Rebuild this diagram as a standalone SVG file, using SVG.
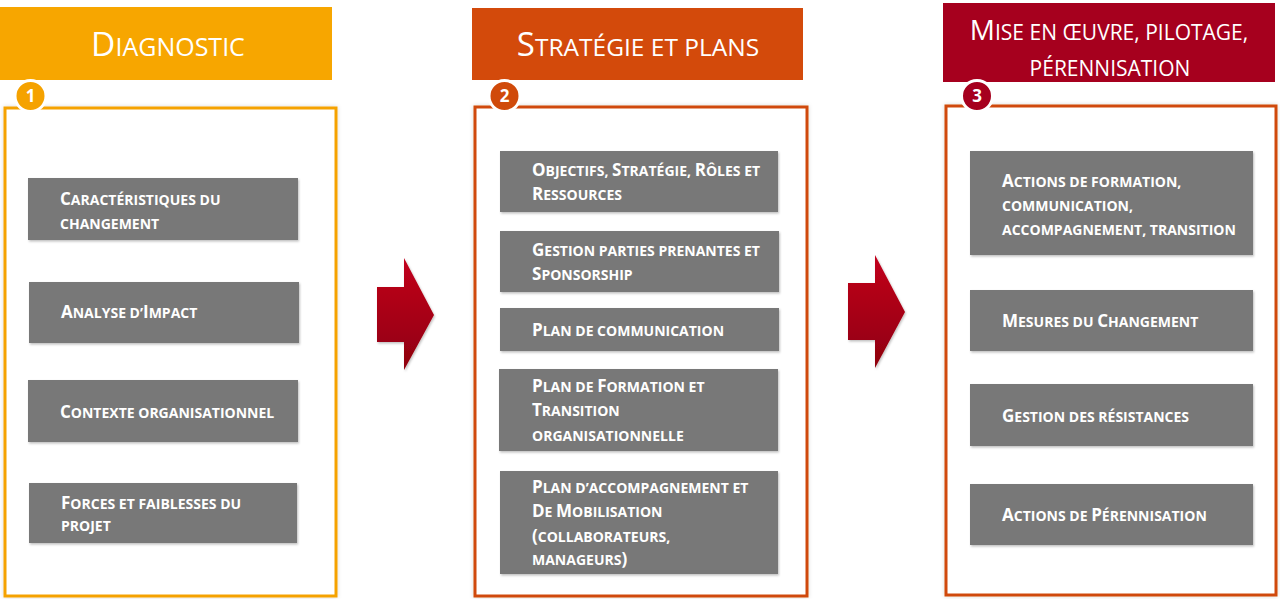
<svg xmlns="http://www.w3.org/2000/svg" width="1280" height="599" viewBox="0 0 1280 599">
<defs>
<style>
.hd{font-family:"Open Sans","Liberation Sans",sans-serif;fill:#fff;font-size:25px;text-anchor:middle}
.hd .B{font-size:33.5px}
.hd3{font-size:21px}
.hd3 .B{font-size:28px}
.bx{fill:#787878}
.t{font-family:"Open Sans","Liberation Sans",sans-serif;font-weight:bold;fill:#fff;font-size:14px}
.t .B{font-size:17px}
.num{font-family:"Open Sans","Liberation Sans",sans-serif;font-weight:bold;fill:#fff;font-size:17px;text-anchor:middle}
.fr{fill:#fff;stroke-width:3}
</style>
<linearGradient id="ag" x1="0" y1="0" x2="0" y2="1">
<stop offset="0" stop-color="#C2001C"/>
<stop offset="1" stop-color="#8E000F"/>
</linearGradient>
<filter id="sh" x="-5%" y="-10%" width="110%" height="130%">
<feDropShadow dx="1" dy="1.5" stdDeviation="1" flood-color="#000" flood-opacity="0.25"/>
</filter>
<filter id="gl" x="-5%" y="-5%" width="110%" height="110%">
<feDropShadow dx="0" dy="0" stdDeviation="2" flood-color="#000" flood-opacity="0.15"/>
</filter>
</defs>
<rect width="1280" height="599" fill="#fff"/>

<!-- Panel 1 -->
<g id="phase1">
<rect x="0" y="7" width="332" height="73" fill="#F7A600"/>
<text class="hd" x="168" y="56"><tspan class="B">D</tspan>IAGNOSTIC</text>
<rect class="fr" x="5" y="108" width="331" height="488" stroke="#F5A200" filter="url(#gl)"/>
<circle cx="30.5" cy="96" r="15.5" fill="#F5A200" stroke="#fff" stroke-width="3"/>
<text class="num" x="30.5" y="102">1</text>
</g>
<g id="p1-caracteristiques">
<rect class="bx" x="28" y="178" width="270" height="62" filter="url(#sh)"/>
<text class="t" x="60" y="205"><tspan class="B">C</tspan>ARACTÉRISTIQUES DU</text>
<text class="t" x="60" y="229">CHANGEMENT</text>
</g>
<g id="p1-analyse">
<rect class="bx" x="29" y="282" width="270" height="61" filter="url(#sh)"/>
<text class="t" x="61" y="318"><tspan class="B">A</tspan>NALYSE D’<tspan class="B">I</tspan>MPACT</text>
</g>
<g id="p1-contexte">
<rect class="bx" x="28" y="380" width="270" height="62" filter="url(#sh)"/>
<text class="t" x="60" y="418"><tspan class="B">C</tspan>ONTEXTE ORGANISATIONNEL</text>
</g>
<g id="p1-forces">
<rect class="bx" x="29" y="483" width="268" height="60" filter="url(#sh)"/>
<text class="t" x="61" y="509"><tspan class="B">F</tspan>ORCES ET FAIBLESSES DU</text>
<text class="t" x="61" y="531">PROJET</text>
</g>

<!-- Panel 2 -->
<g id="phase2">
<rect x="472" y="8" width="331" height="72" fill="#D34A0B"/>
<text class="hd" x="638" y="56" style="font-size:24.5px"><tspan class="B" style="font-size:33px">S</tspan>TRATÉGIE ET PLANS</text>
<rect class="fr" x="475" y="107" width="332" height="489" stroke="#D04A0A" filter="url(#gl)"/>
<circle cx="504.5" cy="96" r="15.5" fill="#D04A0A" stroke="#fff" stroke-width="3"/>
<text class="num" x="504.5" y="102">2</text>
</g>
<g id="p2-objectifs">
<rect class="bx" x="500" y="151" width="278" height="61" filter="url(#sh)"/>
<text class="t" x="532" y="176"><tspan class="B">O</tspan>BJECTIFS, <tspan class="B">S</tspan>TRATÉGIE, <tspan class="B">R</tspan>ÔLES ET</text>
<text class="t" x="532" y="200"><tspan class="B">R</tspan>ESSOURCES</text>
</g>
<g id="p2-gestion">
<rect class="bx" x="500" y="231" width="279" height="61" filter="url(#sh)"/>
<text class="t" x="532" y="256"><tspan class="B">G</tspan>ESTION PARTIES PRENANTES ET</text>
<text class="t" x="532" y="280"><tspan class="B">S</tspan>PONSORSHIP</text>
</g>
<g id="p2-communication">
<rect class="bx" x="500" y="308" width="279" height="43" filter="url(#sh)"/>
<text class="t" x="532" y="336"><tspan class="B">P</tspan>LAN DE COMMUNICATION</text>
</g>
<g id="p2-formation">
<rect class="bx" x="499" y="369" width="279" height="82" filter="url(#sh)"/>
<text class="t" x="532" y="392"><tspan class="B">P</tspan>LAN DE <tspan class="B">F</tspan>ORMATION ET</text>
<text class="t" x="532" y="416"><tspan class="B">T</tspan>RANSITION</text>
<text class="t" x="532" y="441">ORGANISATIONNELLE</text>
</g>
<g id="p2-accompagnement">
<rect class="bx" x="500" y="471" width="278" height="103" filter="url(#sh)"/>
<text class="t" x="532" y="493"><tspan class="B">P</tspan>LAN D’ACCOMPAGNEMENT ET</text>
<text class="t" x="532" y="517"><tspan class="B">D</tspan>E <tspan class="B">M</tspan>OBILISATION</text>
<text class="t" x="532" y="542"><tspan class="B">(</tspan>COLLABORATEURS,</text>
<text class="t" x="532" y="565">MANAGEURS<tspan class="B">)</tspan></text>
</g>

<!-- Panel 3 -->
<g id="phase3">
<rect x="943" y="3" width="332" height="79" fill="#A6001E"/>
<text class="hd hd3" x="1109" y="40"><tspan class="B">M</tspan>ISE EN ŒUVRE, PILOTAGE,</text>
<text class="hd hd3" x="1110" y="76">PÉRENNISATION</text>
<rect class="fr" x="946" y="106" width="330" height="489" stroke="#D04A0A" filter="url(#gl)"/>
<circle cx="977" cy="96" r="15.5" fill="#A6001E" stroke="#fff" stroke-width="3"/>
<text class="num" x="977" y="102">3</text>
</g>
<g id="p3-actions">
<rect class="bx" x="970" y="151" width="283" height="104" filter="url(#sh)"/>
<text class="t" x="1002" y="187"><tspan class="B">A</tspan>CTIONS DE FORMATION,</text>
<text class="t" x="1002" y="211">COMMUNICATION,</text>
<text class="t" x="1002" y="235">ACCOMPAGNEMENT, TRANSITION</text>
</g>
<g id="p3-mesures">
<rect class="bx" x="970" y="290" width="283" height="61" filter="url(#sh)"/>
<text class="t" x="1002" y="327"><tspan class="B">M</tspan>ESURES DU <tspan class="B">C</tspan>HANGEMENT</text>
</g>
<g id="p3-resistances">
<rect class="bx" x="970" y="384" width="283" height="62" filter="url(#sh)"/>
<text class="t" x="1002" y="422"><tspan class="B">G</tspan>ESTION DES RÉSISTANCES</text>
</g>
<g id="p3-perennisation">
<rect class="bx" x="970" y="484" width="283" height="61" filter="url(#sh)"/>
<text class="t" x="1002" y="521"><tspan class="B">A</tspan>CTIONS DE <tspan class="B">P</tspan>ÉRENNISATION</text>
</g>

<!-- Connectors -->
<g id="connectors" fill="url(#ag)" filter="url(#sh)">
<path d="M377,287 H404 V258 L434,315 L404,370 V342 H377 Z"/>
<path d="M848,283 H875 V255 L905,312 L875,368 V340 H848 Z"/>
</g>
</svg>
